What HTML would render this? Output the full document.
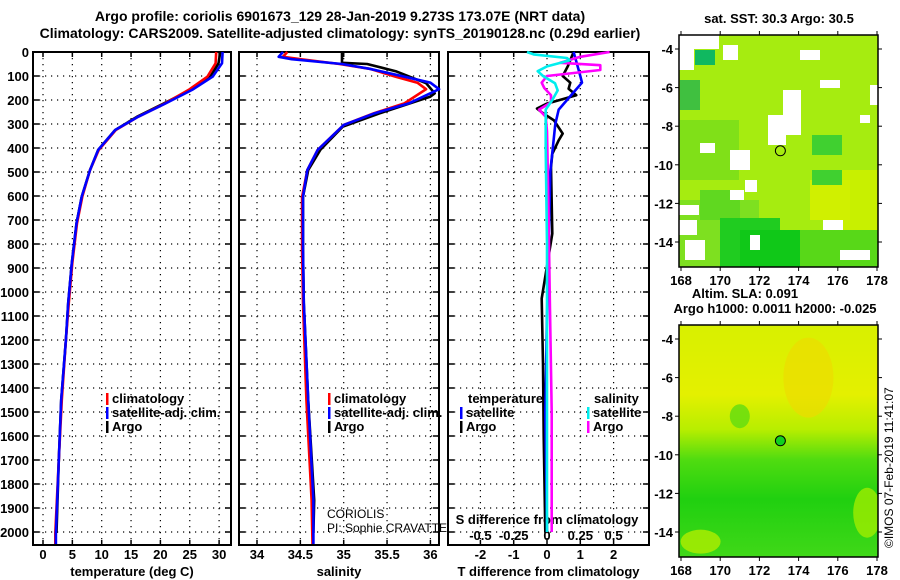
<!DOCTYPE html>
<html><head><meta charset="utf-8"><style>
body{margin:0;background:#fff}
svg{display:block;font-family:"Liberation Sans",sans-serif}
.b{font-weight:bold;font-size:13px}
</style></head><body>
<svg id="s" width="900" height="580" viewBox="0 0 900 580" xmlns="http://www.w3.org/2000/svg">
<text x="340" y="21" text-anchor="middle" class="b" style="font-size:14px">Argo profile: coriolis 6901673_129 28-Jan-2019 9.273S 173.07E (NRT data)</text>
<text x="340" y="38" text-anchor="middle" class="b" style="font-size:14px">Climatology: CARS2009. Satellite-adjusted climatology: synTS_20190128.nc (0.29d earlier)</text>
<g id="maps"></g>
<g id="plots"></g>
<text transform="translate(893,548) rotate(-90)" font-size="12">©IMOS 07-Feb-2019 11:41:07</text>
</svg>
<script>
// ---------- data ----------
const depthTicks=[0,100,200,300,400,500,600,700,800,900,1000,1100,1200,1300,1400,1500,1600,1700,1800,1900,2000];
const tempTicks=[0,5,10,15,20,25,30];
const salTicks=[34,34.5,35,35.5,36];
const tdiffTicks=[-2,-1,0,1,2];
const sdiffTicks=[-0.5,-0.25,0,0.25,0.5];

const tempDepthArgo=[0,47,103,158,214,270,325,408,492,603,714,880,1046,1200,1450,1700,2004];
const tempArgo=[30.2,29.9,28.5,25.1,20.6,16,12.3,9.4,8.0,6.6,5.7,4.9,4.3,3.9,3.1,2.7,2.3];
const tempDepthClim=[0,47,103,158,214,270,325,408,492,603,714,880,1046,1200,1450,1700,2004,2050];
const tempClim=[29.5,29.4,28.0,24.8,20.8,16.2,12.4,9.5,8.0,6.7,5.8,5.0,4.4,3.9,3.2,2.7,2.1,2.1];
const tempSat=[30.6,30.5,28.9,25.4,20.9,16.2,12.3,9.4,8.0,6.6,5.7,4.9,4.3,3.9,3.1,2.7,2.2,2.2];

const salDepthArgo=[0,45,50,80,130,172,186,255,311,408,492,603,825,1046,1450,1867,2004];
const salArgo=[34.98,34.98,35.27,35.6,35.95,36.05,36.0,35.42,34.99,34.73,34.59,34.53,34.53,34.54,34.59,34.66,34.65];
const salDepthClim=[0,20,30,50,70,103,128,155,214,255,304,408,492,603,825,1046,1450,1867,2050];
const salClim=[34.35,34.3,34.5,34.95,35.3,35.6,35.85,35.95,35.7,35.35,35.0,34.7,34.58,34.52,34.52,34.53,34.57,34.63,34.64];
const salSat=[34.3,34.25,34.4,34.98,35.3,35.7,36.0,36.1,35.75,35.36,35.0,34.7,34.58,34.53,34.53,34.54,34.59,34.65,34.65];

const tdDepthArgo=[0,58,100,128,153,180,215,236,257,285,340,368,424,480,757,1027,1300,1600,2000];
const tdArgo=[0.8,0.63,0.47,0.7,0.65,0.88,0,-0.3,-0.1,0.21,0.47,0.35,0.16,0.12,0.16,-0.16,-0.12,-0.1,-0.05];
const tdDepthSat=[0,50,100,128,160,200,240,300,500,800,1100,1500,2000];
const tdSat=[0.8,0.9,1.0,1.05,0.85,0.6,0.35,0.25,0.1,0.05,0,-0.05,0];
const sdDepthArgo=[0,20,45,55,75,100,128,150,180,210,240,270,330,600,1000,1500,2000];
const sdArgo=[0.47,0.25,0.1,0.4,0.4,0.0,-0.04,-0.02,0.03,0.03,-0.06,-0.01,0.0,0.01,0.02,0.035,0.035];
const sdDepthSat=[0,10,25,35,60,80,100,130,160,200,240,400,800,1500,2000];
const sdSat=[-0.15,-0.1,0.15,0.17,0.0,-0.07,-0.03,0.06,0.08,0.04,-0.01,-0.01,0.0,0.0,0.0];

const mapLonTicks=[168,170,172,174,176,178];
const mapLatTicks=[-4,-6,-8,-10,-12,-14];
const floatLon=173.07, floatLat=-9.273;

// ---------- helpers ----------
const NS="http://www.w3.org/2000/svg";
const plots=document.getElementById('plots');
function el(tag,attrs,parent,txt){const e=document.createElementNS(NS,tag);for(const k in attrs)e.setAttribute(k,attrs[k]);if(txt!==undefined)e.textContent=txt;(parent||plots).appendChild(e);return e;}
const TOP=52,BOT=545;
const yD=d=>TOP+d*0.24;

function panel(name,L,R,x,ticks,fmt,title){
  const g=el('g',{});
  
  
  ticks.forEach(t=>{const X=x(t);
    el('line',{x1:X,x2:X,y1:TOP,y2:BOT,stroke:'#000','stroke-width':1.2,'stroke-dasharray':'1.2 4.8'},g);
    const tl=el('text',{x:X,y:559,'text-anchor':'middle',class:'b'},g,fmt(t));
    
    
    el('line',{x1:X,x2:X,y1:BOT,y2:BOT-5,stroke:'#000','stroke-width':1.5},g);
    el('line',{x1:X,x2:X,y1:TOP,y2:TOP+5,stroke:'#000','stroke-width':1.5},g);
  });
  depthTicks.forEach(d=>{const Y=yD(d);
    el('line',{x1:L,x2:R,y1:Y,y2:Y,stroke:'#000','stroke-width':1.2,'stroke-dasharray':'1.2 4.8'},g);
    el('line',{x1:L,x2:L+6,y1:Y,y2:Y,stroke:'#000','stroke-width':1.5},g);
    el('line',{x1:R-6,x2:R,y1:Y,y2:Y,stroke:'#000','stroke-width':1.5},g);
  });
  el('rect',{x:L,y:TOP,width:R-L,height:BOT-TOP,fill:'none',stroke:'#000','stroke-width':2},g);
  const t=el('text',{x:(L+R)/2,y:576,'text-anchor':'middle',class:'b'},g,title);
  
  
  return g;
}
function line(g,name,xs,ds,x,color){
  const pts=xs.map((v,i)=>x(v).toFixed(1)+','+yD(ds[i]).toFixed(1)).join(' ');
  const p=el('polyline',{points:pts,fill:'none',stroke:color,'stroke-width':2.6,'stroke-linejoin':'round'},g);
  
  
}
function legend(g,x,y,items){
  items.forEach((it,i)=>{
    el('rect',{x:x,y:y+i*14-10,width:2.5,height:12,fill:it[1]},g);
    const t=el('text',{x:x+6,y:y+i*14,class:'b'},g,it[0]);
    
    
  });
}

// y labels
depthTicks.forEach(d=>{const t=el('text',{x:29,y:yD(d)+5,'text-anchor':'end',class:'b'},plots,String(d));
  
  });

// panel 1 temperature
const xT=v=>43+v*5.87;
const g1=panel('temperature-panel',33,231,xT,tempTicks,String,'temperature (deg C)');
line(g1,'temp-argo-line',tempArgo,tempDepthArgo,xT,'#000');
line(g1,'temp-clim-line',tempClim,tempDepthClim,xT,'#f00');
line(g1,'temp-sat-line',tempSat,tempDepthClim,xT,'#00f');
legend(g1,106,403,[['climatology','#f00'],['satellite-adj. clim.','#00f'],['Argo','#000']]);

// panel 2 salinity
const xS=v=>257+(v-34)*86.7;
const g2=panel('salinity-panel',239,439,xS,salTicks,String,'salinity');
line(g2,'sal-argo-line',salArgo,salDepthArgo,xS,'#000');
line(g2,'sal-clim-line',salClim,salDepthClim,xS,'#f00');
line(g2,'sal-sat-line',salSat,salDepthClim,xS,'#00f');
legend(g2,328,403,[['climatology','#f00'],['satellite-adj. clim.','#00f'],['Argo','#000']]);
el('text',{x:327,y:518,'font-size':12},g2,'CORIOLIS');
el('text',{x:327,y:532,'font-size':12},g2,'PI: Sophie CRAVATTE');

// panel 3 differences
const xTD=v=>547+v*33.3;
const xSD=v=>547+v*133.2;
const g3=panel('difference-panel',448,649,xTD,tdiffTicks,String,'T difference from climatology');
sdiffTicks.forEach(v=>{const t=el('text',{x:xSD(v),y:540,'text-anchor':'middle',class:'b'},g3,v===0?'0':String(v));
  
  });
const st=el('text',{x:547,y:524,'text-anchor':'middle',class:'b'},g3,'S difference from climatology');


line(g3,'tdiff-argo-line',tdArgo,tdDepthArgo,xTD,'#000');
line(g3,'tdiff-sat-line',tdSat,tdDepthSat,xTD,'#00f');
line(g3,'sdiff-argo-line',sdArgo,sdDepthArgo,xSD,'#f0f');
line(g3,'sdiff-sat-line',sdSat,sdDepthSat,xSD,'#0ee');
el('text',{x:468,y:403,class:'b'},g3,'temperature');
legend(g3,460,417,[['satellite','#00f'],['Argo','#000']]);
el('text',{x:594,y:403,class:'b'},g3,'salinity');
legend(g3,587,417,[['satellite','#0ee'],['Argo','#f0f']]);

// ---------- maps ----------
const maps=document.getElementById('maps');
function mapFrame(name,top,bot,title1,title2,kind){
  const L=679,R=878;
  const xL=lon=>681+(lon-168)*19.6;
  const latA=top===35?49:339, latB=top===35?242:532;
  const yL=lat=>latA+(-4-lat)*(latB-latA)/10;
  const g=el('g',{},maps);
  
  
  const id='c'+top;
  const cp=el('clipPath',{id:id},g);el('rect',{x:L,y:top,width:R-L,height:bot-top},cp);
  const f=el('g',{'clip-path':'url(#'+id+')'},g);
  if(kind==='sst'){
    el('rect',{x:L,y:top,width:R-L,height:bot-top,fill:'#a6ec10'},f);
    [[679,200,80,70,'#7ee020'],[679,120,60,60,'#80e018'],[700,190,40,30,'#60d820'],[720,218,60,50,'#20cc20'],[740,230,60,40,'#10c818'],[800,230,78,40,'#58d818'],[840,170,38,60,'#c8f000'],[810,180,40,40,'#d0f000'],[812,170,30,15,'#40d030'],[812,135,30,20,'#40d030'],[680,80,20,30,'#40c040'],[695,50,20,15,'#10b860']].forEach(r=>el('rect',{x:r[0],y:r[1],width:r[2],height:r[3],fill:r[4]},f));
    [[679,35,40,14],[679,40,15,30],[723,45,15,15],[800,50,20,10],[820,80,20,8],[783,90,18,45],[768,115,18,30],[700,143,15,10],[730,150,20,20],[745,180,12,12],[730,190,14,10],[679,205,20,10],[685,240,20,20],[679,220,18,15],[823,220,20,10],[840,250,30,10],[750,235,10,15],[870,85,8,20],[860,115,10,8]].forEach(r=>el('rect',{x:r[0],y:r[1],width:r[2],height:r[3],fill:'#fff'},f));
  } else {
    const lg=el('linearGradient',{id:'sla',x1:0,y1:0,x2:0,y2:1},g);
    [['0','#d8f000'],['0.3','#e4f000'],['0.45','#b8ee00'],['0.58','#50dc10'],['0.75','#20d010'],['1','#40d818']].forEach(s=>el('stop',{offset:s[0],'stop-color':s[1]},lg));
    el('rect',{x:L,y:top,width:R-L,height:bot-top,fill:'url(#sla)'},f);
    el('ellipse',{cx:xL(174.5),cy:yL(-6),rx:25,ry:40,fill:'#ecdc00',opacity:0.7},f);
    el('ellipse',{cx:xL(171),cy:yL(-8),rx:10,ry:12,fill:'#60dc10',opacity:0.8},f);
    el('ellipse',{cx:xL(169),cy:yL(-14.5),rx:20,ry:12,fill:'#b0ee00',opacity:0.8},f);
    el('ellipse',{cx:xL(177.5),cy:yL(-13),rx:14,ry:25,fill:'#a0ec00',opacity:0.8},f);
  }
  el('rect',{x:L,y:top,width:R-L,height:bot-top,fill:'none',stroke:'#000','stroke-width':1.5},g);
  const m=el('circle',{cx:xL(floatLon),cy:yL(floatLat),r:5,fill:kind==='sst'?'none':'#10d020',stroke:'#000','stroke-width':1},g);
  
  
  mapLonTicks.forEach(v=>{el('text',{x:xL(v),y:bot+18,'text-anchor':'middle',class:'b'},g,String(v));
    el('line',{x1:xL(v),x2:xL(v),y1:top-4,y2:top,stroke:'#000'},g);el('line',{x1:xL(v),x2:xL(v),y1:bot,y2:bot+4,stroke:'#000'},g);});
  mapLatTicks.forEach(v=>{el('text',{x:673,y:yL(v)+5,'text-anchor':'end',class:'b'},g,String(v));
    el('line',{x1:L-4,x2:L,y1:yL(v),y2:yL(v),stroke:'#000'},g);el('line',{x1:R,x2:R+4,y1:yL(v),y2:yL(v),stroke:'#000'},g);});
  el('text',{x:title2?745:779,y:top-(title2?27:12),'text-anchor':'middle',class:'b'},g,title1);
  if(title2)el('text',{x:775,y:top-12,'text-anchor':'middle',class:'b'},g,title2);
}
mapFrame('sst-map',35,267,'sat. SST: 30.3 Argo: 30.5',null,'sst');
mapFrame('sla-map',325,557,'Altim. SLA: 0.091','Argo h1000: 0.0011 h2000: -0.025','sla');
</script>
</body></html>
